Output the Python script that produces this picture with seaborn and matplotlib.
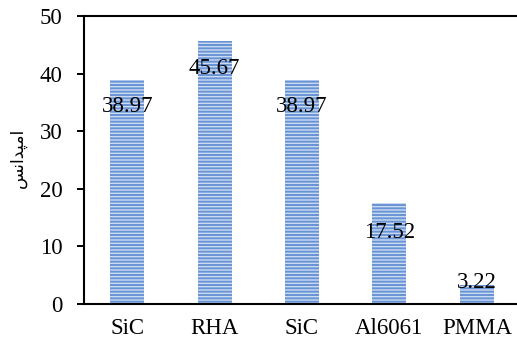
import matplotlib
matplotlib.use("Agg")
import matplotlib.pyplot as plt
import seaborn as sns
import pandas as pd

categories = ["SiC", "RHA", "SiC", "Al6061", "PMMA"]
values = [38.97, 45.67, 38.97, 17.52, 3.22]
value_labels = ["38.97", "45.67", "38.97", "17.52", "3.22"]
y_ticks = [0, 10, 20, 30, 40, 50]
# Persian word "امپدانس" (impedance) written in shaped presentation forms, visual order
y_label = "\uFEB2\uFEE7\uFE8D\uFEAA\uFB59\uFEE3\uFE8D"

label_offsets_pt = [-19.5, -19.5, -19.5, -21, 2]

sns.set_theme(style="white")
plt.rcParams["font.family"] = ["Liberation Serif", "DejaVu Serif"]
plt.rcParams["hatch.linewidth"] = 1.4
plt.rcParams["hatch.color"] = "#6893d4"

df = pd.DataFrame({"key": [str(i) for i in range(len(values))], "value": values})

fig = plt.figure(figsize=(5.17, 3.49), dpi=100)
ax = fig.add_axes([83.5 / 517, 1 - 304 / 349, 437 / 517, 288 / 349])

sns.barplot(data=df, x="key", y="value", ax=ax, color="#c9daf1", width=0.39,
            saturation=1, edgecolor="#6893d4", linewidth=0)
for p in ax.patches:
    p.set_hatch("-----")
    p.set_edgecolor("#6893d4")
    p.set_linewidth(0)

for i, (v, lab, off) in enumerate(zip(values, value_labels, label_offsets_pt)):
    ax.annotate(lab, xy=(i, v), xytext=(0, off), textcoords="offset points",
                ha="center", va="center", fontsize=16.5, color="black")

ax.set_ylim(0, 50)
ax.set_xlim(-0.5, len(values) - 0.5)
ax.set_yticks(y_ticks)
ax.set_yticklabels([str(t) for t in y_ticks], fontsize=16.5)
ax.set_xticks(range(len(categories)))
ax.set_xticklabels(categories, fontsize=16.5)
ax.set_xlabel("")
ax.set_ylabel("")
ax.tick_params(axis="y", length=5, width=1.4, pad=10, direction="out", left=True, colors="black")
ax.tick_params(axis="x", length=0, pad=10, colors="black")

for s in ["left", "bottom", "top"]:
    ax.spines[s].set_visible(True)
    ax.spines[s].set_color("black")
    ax.spines[s].set_linewidth(1.5)
ax.spines["right"].set_visible(False)

fig.text(18 / 517, 1 - 158 / 349, y_label, rotation=90, ha="center", va="center",
         fontsize=12.5, family=["DejaVu Sans"], color="black")

fig.savefig("out.png", dpi=100)
